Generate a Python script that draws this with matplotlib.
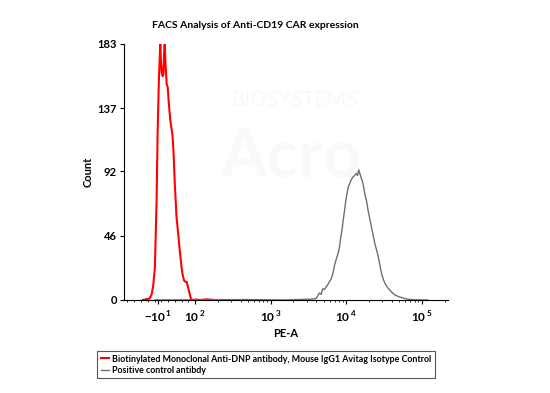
import matplotlib
matplotlib.use("Agg")
import matplotlib.pyplot as plt
import numpy as np

plt.rcParams["font.family"] = ["Lato", "DejaVu Sans"]
plt.rcParams["mathtext.fontset"] = "custom"
plt.rcParams["mathtext.rm"] = "Lato:bold"
plt.rcParams["mathtext.bf"] = "Lato:bold"

# isotype control (red), PE-A vs count
iso_x = [-55, -45, -35, -29, -24, -19, -14, -11, -7, -3, -1, 1, 4, 6, 8, 10,
         13, 16, 19, 22, 26, 29, 33, 36, 40, 45, 50, 55, 60, 63, 67, 71, 75, 79,
         82, 85, 88, 95, 100, 116, 140, 185, 230]
iso_y = [0, 0.5, 1, 3.6, 10, 23, 70, 118, 159, 183, 170, 163, 160, 161, 175, 183,
         166, 154, 152, 141, 130, 124, 118, 106, 82, 59, 47, 34, 23, 18, 14, 13,
         13, 9, 6, 3, 0.5, 0, 0.4, 0, 0.5, 0, 0]

# positive control (grey)
pos_x = [-20, 500, 1500, 2500, 3400, 3981, 4406, 4650, 4890, 5150, 5412, 5700,
         5986, 6300, 6648, 7000, 7356, 7750, 8143, 8450, 8770, 9100, 9487, 9850,
         10217, 10650, 11066, 11650, 12274, 12900, 13590, 14100, 14590, 15200,
         15849, 16700, 17538, 18500, 19453, 20500, 21544, 22700, 23836, 25100,
         26476, 27800, 29286, 30800, 32433, 35000, 37757, 41000, 44057, 49000,
         54117, 60000, 66478, 80000, 120000]
pos_y = [0, 0.3, 0, 0.4, 0.6, 1, 5, 4, 8, 7.5, 9.5, 11, 13, 15, 19, 25, 29, 33,
         38, 45, 50, 57, 64, 71, 76, 81, 83, 86, 88, 89, 90.5, 89, 93, 90, 87, 83,
         76, 71, 64, 58, 52, 46, 40.5, 36, 31, 25, 19, 15, 12, 9, 7, 5, 3.6, 2.5,
         1.7, 1, 0.5, 0.2, 0]

y_ticks = [0, 46, 92, 137, 183]
x_ticks = [-10, 100, 1000, 10000, 100000]
x_labels = [r"$-10^{\,1}$", r"$10^{\,2}$", r"$10^{\,3}$",
            r"$10^{\,4}$", r"$10^{\,5}$"]

labels = ["Biotinylated Monoclonal Anti-DNP antibody, Mouse IgG1 Avitag Isotype Control",
          "Positive control antibdy"]

fig = plt.figure(figsize=(5.5, 3.93), dpi=100)
ax = fig.add_axes([124 / 550, 1 - 300 / 393, 324 / 550, 256 / 393])

# faint watermark
fig.text(0.535, 0.745, "BIOSYSTEMS", fontsize=15, color="#f8f8f8",
         ha="center", va="center", zorder=0)
fig.text(0.53, 0.60, "Acro", fontsize=48, color="#f9f9f9", fontweight="bold",
         ha="center", va="center", zorder=0)
ax.patch.set_alpha(0)

ax.plot(iso_x, iso_y, color="#ff0000", lw=1.5, label=labels[0])
ax.plot(pos_x, pos_y, color="#6e6e6e", lw=1.0, label=labels[1])

ax.set_xscale("symlog", linthresh=100, linscale=0.4037)
ax.set_xlim(-111, 222000)
ax.set_ylim(0, 183)

ax.set_yticks(y_ticks)
ax.set_yticklabels([str(v) for v in y_ticks], fontweight="bold", fontsize=8)
ax.set_xticks(x_ticks)
ax.set_xticklabels(x_labels, fontsize=8.5)
minor = list(range(-100, 100, 20))
for dec in [100, 1000, 10000, 100000]:
    minor += [m * dec for m in range(2, 10) if m * dec < 222000]
ax.set_xticks(minor, minor=True)
ax.tick_params(axis="x", which="major", length=3, width=0.8, pad=4)
ax.tick_params(axis="x", which="minor", length=1.5, width=0.6)
ax.tick_params(axis="y", length=3, width=0.8, pad=2)

for s in ["top", "right"]:
    ax.spines[s].set_visible(False)
for s in ["left", "bottom"]:
    ax.spines[s].set_linewidth(0.8)

ax.set_ylabel("Count", fontsize=8, fontweight="bold", labelpad=3)
ax.set_xlabel("PE-A", fontsize=8, fontweight="bold", labelpad=2)
fig.text(255 / 550, 1 - 25 / 393, "FACS Analysis of Anti-CD19 CAR expression",
         fontsize=7.5, fontweight="bold", ha="center", va="center")

leg = fig.legend(loc="upper left", bbox_to_anchor=(97 / 550, 1 - 351 / 393),
                 prop={"weight": "bold", "size": 6.4},
                 handlelength=1.0, handletextpad=0.3, borderpad=0.4,
                 labelspacing=0.25, fancybox=False, framealpha=1,
                 edgecolor="#555555", borderaxespad=0)
leg.get_frame().set_linewidth(0.8)

fig.savefig("out.png", dpi=100)
